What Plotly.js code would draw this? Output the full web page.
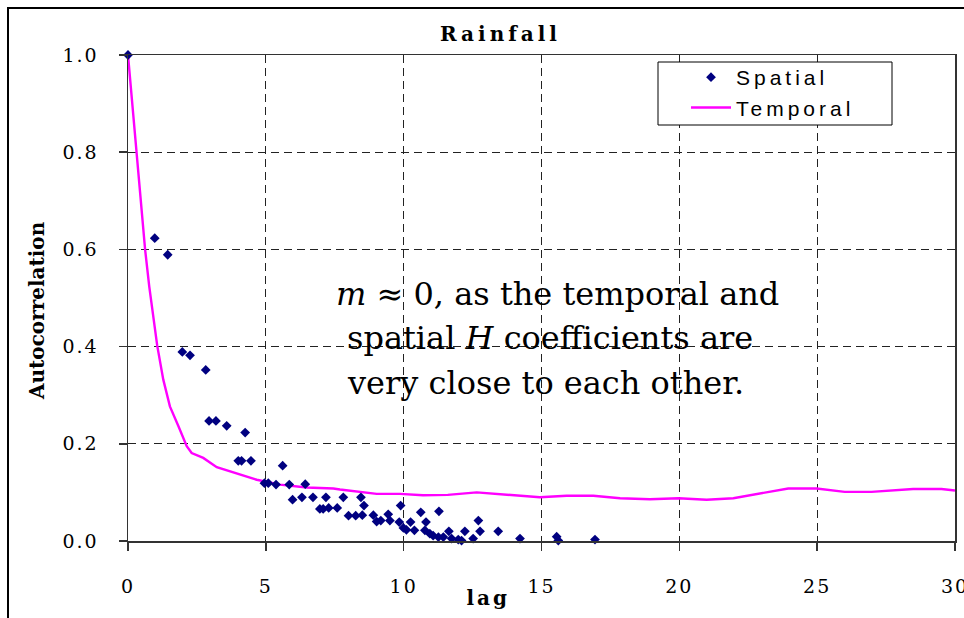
<!DOCTYPE html>
<html>
<head>
<meta charset="utf-8">
<script src="https://cdn.plot.ly/plotly-3.0.1.min.js"></script>
<style>
  html, body { margin: 0; padding: 0; background: #fff; }
  #chart { width: 964px; height: 618px; }
  .xtick text, .ytick text { letter-spacing: 2px; }
  .legendtext { letter-spacing: 4px; }
  .annotation[data-index="0"] text { letter-spacing: 4px; }
  .annotation[data-index="1"] text { letter-spacing: 3px; }
</style>
</head>
<body>
<div id="chart"></div>
<script>
// Spatial autocorrelation of rainfall (scatter of lag pairs)
const spatialLag = [0, 0.97, 1.44, 1.97, 2.25, 2.82, 2.94, 3.19, 3.58, 4.00, 4.12, 4.25, 4.46,
  4.95, 5.09, 5.37, 5.61, 5.85, 5.97, 6.31, 6.43, 6.71, 6.96, 7.08, 7.18, 7.28, 7.59, 7.81,
  8.00, 8.26, 8.45, 8.50, 8.56, 8.90, 9.02, 9.17, 9.44, 9.50, 9.84, 9.89, 9.99, 10.10, 10.25,
  10.39, 10.62, 10.77, 10.81, 10.95, 11.07, 11.26, 11.28, 11.44, 11.64, 11.74, 11.98, 12.10,
  12.22, 12.52, 12.71, 12.77, 13.43, 14.22, 15.55, 15.61, 16.94];
const spatialAcf = [1.000, 0.623, 0.589, 0.389, 0.382, 0.352, 0.247, 0.247, 0.237, 0.165, 0.165, 0.223, 0.165,
  0.119, 0.119, 0.116, 0.155, 0.116, 0.085, 0.090, 0.117, 0.090, 0.066, 0.066, 0.090, 0.068, 0.068, 0.090,
  0.052, 0.052, 0.090, 0.053, 0.073, 0.053, 0.040, 0.042, 0.055, 0.042, 0.039, 0.073, 0.027, 0.023, 0.039,
  0.022, 0.059, 0.022, 0.039, 0.015, 0.011, 0.008, 0.061, 0.008, 0.020, 0.005, 0.003, 0.001,
  0.020, 0.005, 0.042, 0.020, 0.020, 0.005, 0.009, 0.001, 0.003];

// Temporal autocorrelation of rainfall (continuous curve)
const temporalLag = [0, 0.46, 0.62, 0.77, 1.06, 1.28, 1.52, 1.83, 2.13, 2.31, 2.73, 3.22, 4.06, 4.67,
  5.51, 6.48, 7.45, 7.69, 9.02, 9.87, 10.7, 11.6, 12.65, 13.74, 14.94, 15.91, 16.88, 17.85, 18.93,
  19.97, 20.99, 21.96, 22.92, 23.95, 24.98, 26.0, 26.97, 28.48, 29.51, 30.0];
const temporalAcf = [1.0, 0.70, 0.60, 0.524, 0.402, 0.332, 0.277, 0.236, 0.195, 0.181, 0.171, 0.152, 0.136, 0.126,
  0.116, 0.110, 0.108, 0.106, 0.097, 0.097, 0.094, 0.095, 0.100, 0.095, 0.090, 0.093, 0.093, 0.088, 0.086,
  0.088, 0.085, 0.088, 0.097, 0.108, 0.108, 0.101, 0.101, 0.107, 0.107, 0.104];

const yTicks = [0, 0.2, 0.4, 0.6, 0.8, 1.0];
const xTicks = [0, 5, 10, 15, 20, 25, 30];

const serif = 'DejaVu Serif, Liberation Serif, serif';
const sans = 'Liberation Sans, Arial, sans-serif';

// plot area in pixels: x 128..955, y 55..541
const px = v => (v - 128) / 827;
const py = v => (541 - v) / 486;

const traces = [
  {
    name: 'Temporal',
    x: temporalLag, y: temporalAcf,
    type: 'scatter', mode: 'lines',
    line: { color: '#ff00ff', width: 2.4 }
  },
  {
    name: 'Spatial',
    x: spatialLag, y: spatialAcf,
    type: 'scatter', mode: 'markers',
    marker: { symbol: 'diamond', size: 7.5, color: '#000080' },
    cliponaxis: false
  }
];

const axisCommon = {
  showline: true, mirror: true, linecolor: '#333', linewidth: 1.5,
  ticks: 'outside', ticklen: 8, tickwidth: 1.5, tickcolor: '#333',
  showgrid: true, gridcolor: '#222', gridwidth: 1, griddash: '8px,5px',
  zeroline: false, ticklabeloverflow: 'allow',
  tickfont: { family: serif, size: 19, color: '#000' }
};

const layout = {
  width: 964, height: 618,
  margin: { l: 128, r: 9, t: 55, b: 77 },
  paper_bgcolor: '#fff', plot_bgcolor: '#fff',
  showlegend: true,
  legend: {
    x: px(686), y: py(57), xanchor: 'left', yanchor: 'top',
    traceorder: 'reversed',
    bgcolor: 'rgba(0,0,0,0)', borderwidth: 0,
    font: { family: sans, size: 21, color: '#000' },
    itemwidth: 40
  },
  xaxis: Object.assign({}, axisCommon, {
    range: [0, 30], tickvals: xTicks, ticktext: xTicks.map(String),
    ticklabelstandoff: 20
  }),
  yaxis: Object.assign({}, axisCommon, {
    range: [0, 1.0], tickvals: yTicks, ticktext: yTicks.map(v => v.toFixed(1)),
    ticklabelstandoff: 16
  }),
  shapes: [
    {
      // chart frame
      type: 'rect', xref: 'paper', yref: 'paper',
      x0: px(8), x1: px(975), y0: py(630), y1: py(8),
      line: { color: '#000', width: 2 }, fillcolor: 'rgba(0,0,0,0)'
    },
    {
      // legend box
      type: 'rect', xref: 'paper', yref: 'paper', layer: 'above',
      x0: px(658), x1: px(892), y0: py(125), y1: py(62),
      line: { color: '#000', width: 1 }, fillcolor: '#fff'
    }
  ],
  annotations: [
    {
      text: '<b>Rainfall</b>', xref: 'paper', yref: 'paper',
      x: px(500), y: py(34), xanchor: 'center', yanchor: 'middle',
      showarrow: false, font: { family: serif, size: 20, color: '#000' }
    },
    {
      text: '<b>lag</b>', xref: 'paper', yref: 'paper',
      x: px(488), y: py(598), xanchor: 'center', yanchor: 'middle',
      showarrow: false, font: { family: serif, size: 20, color: '#000' }
    },
    {
      text: '<b>Autocorrelation</b>', xref: 'paper', yref: 'paper',
      x: px(37), y: py(311), xanchor: 'center', yanchor: 'middle',
      textangle: -90,
      showarrow: false, font: { family: serif, size: 20, color: '#000' }
    },
    {
      text: '<i>m</i> \u2248 0, as the temporal and', xref: 'paper', yref: 'paper',
      x: px(334), y: py(294), xanchor: 'left', yanchor: 'middle',
      showarrow: false, font: { family: serif, size: 32, color: '#000' }
    },
    {
      text: 'spatial <i>H</i> coefficients are', xref: 'paper', yref: 'paper',
      x: px(345), y: py(338), xanchor: 'left', yanchor: 'middle',
      showarrow: false, font: { family: serif, size: 32, color: '#000' }
    },
    {
      text: 'very close to each other.', xref: 'paper', yref: 'paper',
      x: px(345), y: py(383), xanchor: 'left', yanchor: 'middle',
      showarrow: false, font: { family: serif, size: 32, color: '#000' }
    }
  ]
};

Plotly.newPlot('chart', traces, layout, { displayModeBar: false, staticPlot: true });
</script>
</body>
</html>
